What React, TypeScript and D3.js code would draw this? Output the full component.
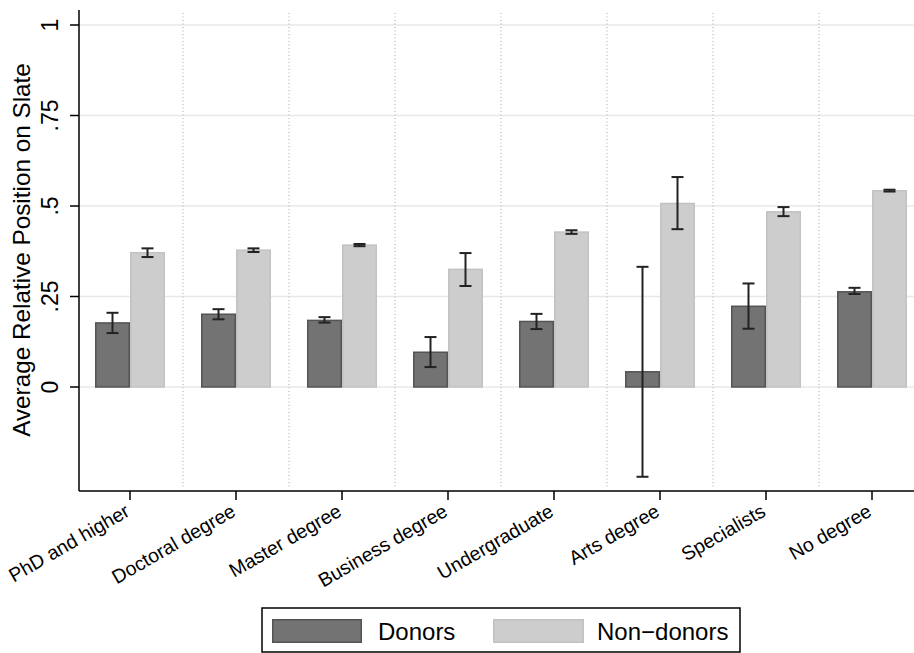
import React from "react";
import * as d3 from "d3";

// Education categories along the x axis
const categories = [
  "PhD and higher",
  "Doctoral degree",
  "Master degree",
  "Business degree",
  "Undergraduate",
  "Arts degree",
  "Specialists",
  "No degree",
];

const groups = ["Donors", "Non\u2212donors"];

// Mean relative position on slate, with confidence bounds
const donorMean = [0.177, 0.201, 0.184, 0.096, 0.181, 0.042, 0.223, 0.263];
const donorLow = [0.149, 0.187, 0.178, 0.055, 0.160, -0.248, 0.161, 0.257];
const donorHigh = [0.205, 0.215, 0.193, 0.138, 0.202, 0.332, 0.286, 0.274];

const nonDonorMean = [0.371, 0.378, 0.392, 0.325, 0.428, 0.507, 0.484, 0.542];
const nonDonorLow = [0.359, 0.373, 0.389, 0.279, 0.423, 0.436, 0.472, 0.540];
const nonDonorHigh = [0.383, 0.383, 0.395, 0.370, 0.433, 0.580, 0.497, 0.545];

const yTicks = [0, 0.25, 0.5, 0.75, 1];
const yTickLabels = ["0", ".25", ".5", ".75", "1"];

const W = 914;
const H = 653;
const FONT = "'Liberation Sans', Arial, sans-serif";

export default function App() {
  const axisX = 79;
  const axisBottom = 491;
  const axisTop = 10;

  const x = d3.scaleBand<string>().domain(categories).range([77, 925]).padding(0);
  const sub = d3.scaleBand<string>().domain(groups).range([-35, 35]).padding(0);
  const y = d3.scaleLinear().domain([0, 1]).range([387, 25]);

  const series = [
    { name: groups[0], mean: donorMean, lo: donorLow, hi: donorHigh, fill: "#737373", stroke: "#545454" },
    { name: groups[1], mean: nonDonorMean, lo: nonDonorLow, hi: nonDonorHigh, fill: "#cdcdcd", stroke: "#c2c2c2" },
  ];

  const bw = x.bandwidth();
  const separators = categories.slice(1).map((c) => x(c)!);

  return (
    <svg
      width={W}
      height={H}
      style={{ position: "absolute", left: 0, top: 0, background: "#fff" }}
      fontFamily={FONT}
    >
      {/* horizontal grid */}
      {yTicks.map((t) => (
        <line key={"g" + t} x1={axisX} x2={W} y1={y(t)} y2={y(t)} stroke="#e8e8e8" strokeWidth={1.5} />
      ))}
      {/* dotted category separators */}
      {separators.map((sx, i) => (
        <line
          key={"s" + i}
          x1={sx}
          x2={sx}
          y1={13}
          y2={488}
          stroke="#a8a8a8"
          strokeWidth={1}
          strokeDasharray="1 2.5"
        />
      ))}
      {/* bars */}
      {series.map((s) =>
        categories.map((c, i) => {
          const x0 = x(c)! + bw / 2 + sub(s.name)!;
          const v = s.mean[i];
          const top = Math.min(y(v), y(0));
          const h = Math.abs(y(v) - y(0));
          return (
            <rect
              key={s.name + c}
              x={x0 + 0.75}
              y={top}
              width={sub.bandwidth() - 1.5}
              height={h}
              fill={s.fill}
              stroke={s.stroke}
              strokeWidth={1.5}
            />
          );
        })
      )}
      {/* error bars */}
      {series.map((s) =>
        categories.map((c, i) => {
          const cx = x(c)! + bw / 2 + sub(s.name)! + sub.bandwidth() / 2;
          const y1 = y(s.hi[i]);
          const y2 = y(s.lo[i]);
          return (
            <g key={"e" + s.name + c} stroke="#222" strokeWidth={2}>
              <line x1={cx} x2={cx} y1={y1} y2={y2} />
              <line x1={cx - 6} x2={cx + 6} y1={y1} y2={y1} />
              <line x1={cx - 6} x2={cx + 6} y1={y2} y2={y2} />
            </g>
          );
        })
      )}
      {/* axes */}
      <line x1={axisX} x2={axisX} y1={axisTop} y2={axisBottom} stroke="#000" strokeWidth={1.5} />
      <line x1={axisX} x2={W} y1={axisBottom} y2={axisBottom} stroke="#000" strokeWidth={1.5} />
      {yTicks.map((t, i) => (
        <g key={"yt" + t}>
          <line x1={70} x2={axisX} y1={y(t)} y2={y(t)} stroke="#000" strokeWidth={1.5} />
          <text
            transform={`translate(58,${y(t)}) rotate(-90)`}
            textAnchor="middle"
            fontSize={23}
            fill="#000"
          >
            {yTickLabels[i]}
          </text>
        </g>
      ))}
      <text
        transform={`translate(30,250) rotate(-90)`}
        textAnchor="middle"
        fontSize={24.3}
        fill="#000"
      >
        Average Relative Position on Slate
      </text>
      {categories.map((c) => {
        const cx = x(c)! + bw / 2;
        return (
          <g key={"xt" + c}>
            <line x1={cx} x2={cx} y1={axisBottom} y2={500} stroke="#000" strokeWidth={1.5} />
            <text
              transform={`translate(${cx + 1},${515}) rotate(-30)`}
              textAnchor="end"
              fontSize={19.5}
              fill="#000"
            >
              {c}
            </text>
          </g>
        );
      })}
      {/* legend */}
      <rect x={262} y={608} width={478} height={44} fill="#fff" stroke="#000" strokeWidth={1.5} />
      <rect x={272.75} y={619.75} width={88.5} height={22.5} fill={series[0].fill} stroke={series[0].stroke} strokeWidth={1.5} />
      <text x={378} y={640} fontSize={24} fill="#000">
        {groups[0]}
      </text>
      <rect x={493.75} y={619.75} width={89.5} height={22.5} fill={series[1].fill} stroke={series[1].stroke} strokeWidth={1.5} />
      <text x={597} y={640} fontSize={24} fill="#000">
        {groups[1]}
      </text>
    </svg>
  );
}
